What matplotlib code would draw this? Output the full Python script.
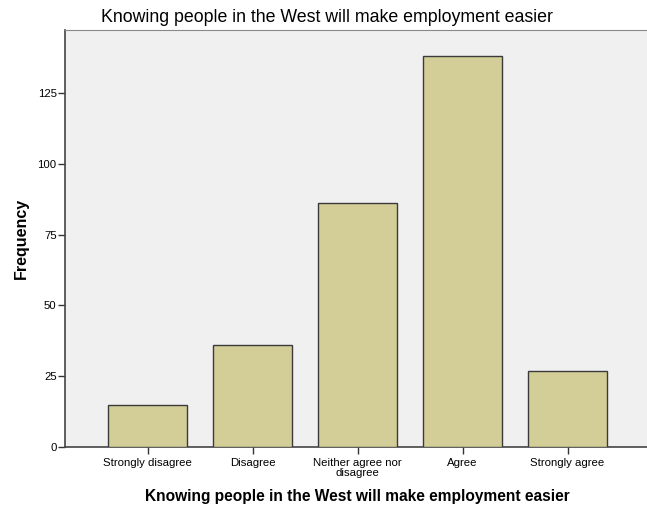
import matplotlib.pyplot as plt
import numpy as np

plt.rcParams['font.family'] = ['Liberation Sans', 'DejaVu Sans']

categories = ['Strongly disagree', 'Disagree', 'Neither agree nor\ndisagree', 'Agree', 'Strongly agree']
freq = [15, 36, 86, 138, 27]
yticks = [0, 25, 50, 75, 100, 125]

fig = plt.figure(figsize=(6.47, 5.08), dpi=100)
ax = fig.add_axes([65/647, 1-447/508, 1-65/647, (447-30)/508])
ax.set_facecolor('#f0f0f0')

x = np.arange(len(categories))
ax.bar(x, freq, width=0.75, color='#d3ce97', edgecolor='#3a3a3a', linewidth=1.0, zorder=3)

ax.set_xlim(-0.786, 4.757)
ax.set_ylim(0, 147.2)
ax.set_yticks(yticks)
ax.set_xticks(x)
ax.set_xticklabels(categories, fontsize=8.2, linespacing=0.95)
ax.tick_params(axis='y', labelsize=8.2, length=5, width=1, color='#333333', pad=1)
ax.tick_params(axis='x', length=5, width=1, color='#333333', pad=3)

for s in ['left', 'bottom']:
    ax.spines[s].set_color('#444444')
    ax.spines[s].set_linewidth(1.2)
ax.spines['top'].set_color('#888888')
ax.spines['right'].set_visible(False)

fig.text(327/647, 1-17/508, 'Knowing people in the West will make employment easier',
         ha='center', va='center', fontsize=12.8)
fig.text(357/647, 1-497/508, 'Knowing people in the West will make employment easier',
         ha='center', va='center', fontsize=11.2, fontweight='bold')
fig.text(21/647, 1-238/508, 'Frequency', rotation=90, ha='center', va='center',
         fontsize=11.5, fontweight='bold')

fig.savefig('out.png', dpi=100)
